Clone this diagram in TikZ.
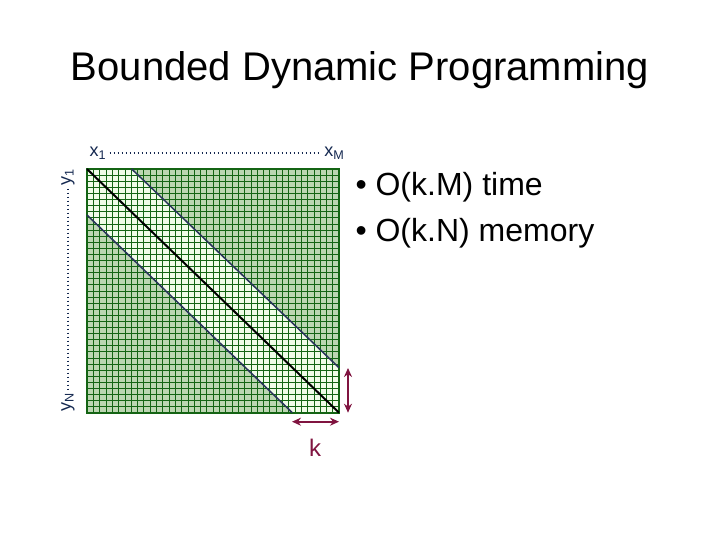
\documentclass[tikz,border=0pt]{standalone}
\usepackage{fontspec}
\setmainfont{Liberation Sans}
\usetikzlibrary{arrows.meta}
\definecolor{DarkCell}{RGB}{188, 214, 178}
\definecolor{LightCell}{RGB}{240, 252, 232}
\definecolor{GridGreen}{RGB}{20, 100, 20}
\definecolor{BandBlue}{RGB}{40, 50, 90}
\definecolor{Maroon}{RGB}{128, 20, 64}
\definecolor{LabelBlue}{RGB}{20, 40, 80}

\begin{document}
\begin{tikzpicture}[x=1pt,y=-1pt]
\useasboundingbox (0,0) rectangle (720,540);
%\draw[help lines] (0,0) grid (720,540);
\node (title) at (360,70) {\fontsize{40}{44}\selectfont Bounded Dynamic Programming};
% cells
\fill[DarkCell] (87,169) rectangle (339,412.7);
\fill[LightCell] (87,169) -- (131.7,169) -- (339,367.7) -- (339,412.7) -- (292.3,412.7) -- (87,215) -- cycle;
\foreach \i in {1,...,39} {
  \draw[GridGreen,line width=0.6pt] (87+6.3*\i,169) -- (87+6.3*\i,412.7);
  \draw[GridGreen,line width=0.6pt] (87,169+6.0925*\i) -- (339,169+6.0925*\i);
}
\draw[GridGreen,line width=1.6pt] (87,169) rectangle (339,412.7);
% band
\draw[BandBlue,line width=1.5pt] (131.7,169) -- (339,367.7);
\draw[BandBlue,line width=1.5pt] (87,215) -- (292.3,412.7);
\draw[black,line width=2pt] (87,169) -- (339,412.7);
% labels
\node[LabelBlue,anchor=west] (xone) at (86,153) {\fontsize{18}{19}\selectfont x\textsubscript{1}};
\node[LabelBlue,anchor=east] (xM) at (348,153) {\fontsize{18}{19}\selectfont x\textsubscript{M}};
\draw[LabelBlue,line width=1.2pt,dash pattern=on 0.8pt off 3.2pt] (xone.east) -- (xM.west);
\node[LabelBlue,rotate=90,anchor=east] (yone) at (68,165) {\fontsize{18}{19}\selectfont y\textsubscript{1}};
\node[LabelBlue,rotate=90,anchor=west] (yN) at (68,415) {\fontsize{18}{19}\selectfont y\textsubscript{N}};
\draw[LabelBlue,line width=1.2pt,dash pattern=on 0.8pt off 3.2pt] (yone.west) -- (yN.east);
% k arrows
\coordinate (kl) at (292,421.7);
\coordinate (kr) at (339,421.7);
\coordinate (kt) at (348,368);
\coordinate (kb) at (348,412.7);
\draw[Maroon,line width=2pt,{Stealth[length=9pt,width=8pt]}-{Stealth[length=9pt,width=8pt]}] (kl) -- (kr);
\draw[Maroon,line width=2pt,{Stealth[length=9pt,width=8pt]}-{Stealth[length=9pt,width=8pt]}] (kt) -- (kb);
\node[Maroon] (k) at (315,448) {\fontsize{24}{26}\selectfont k};
% bullets
\node[anchor=west] (time) at (352,187) {\fontsize{32}{36}\selectfont • O(k.M) time};
\node[anchor=west] (mem) at (352,233) {\fontsize{32}{36}\selectfont • O(k.N) memory};
\end{tikzpicture}
\end{document}
